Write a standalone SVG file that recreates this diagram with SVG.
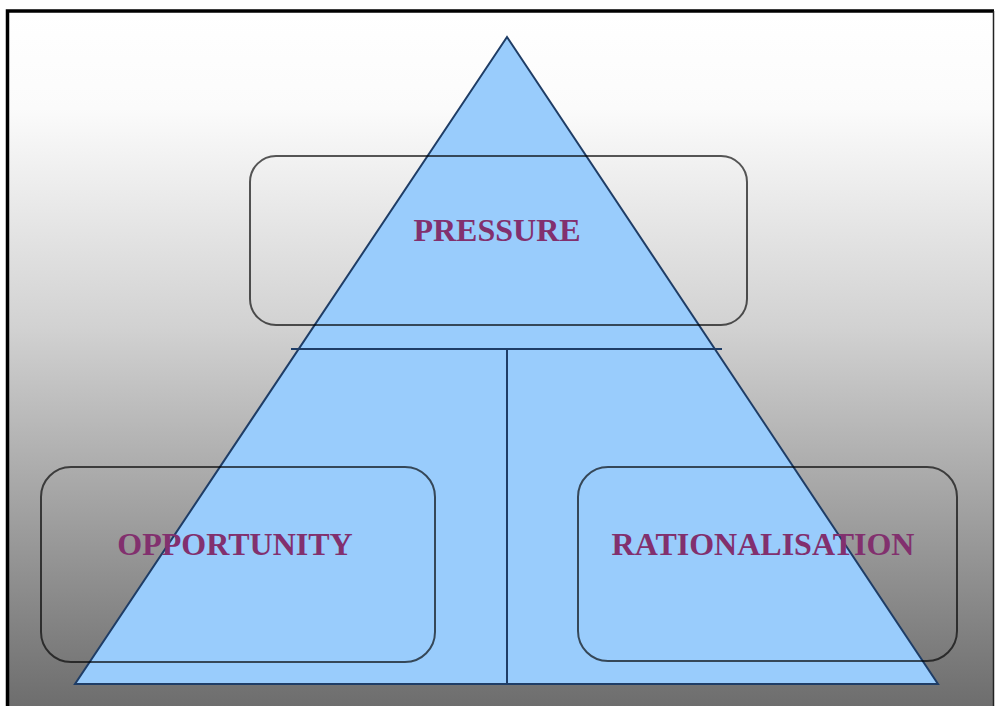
<svg xmlns="http://www.w3.org/2000/svg" width="995" height="706" viewBox="0 0 995 706">
  <defs>
    <linearGradient id="bg" x1="0" y1="0" x2="0" y2="1">
      <stop offset="0" stop-color="#ffffff"/>
      <stop offset="0.14" stop-color="#fbfbfb"/>
      <stop offset="0.45" stop-color="#d2d2d2"/>
      <stop offset="1" stop-color="#6c6c6c"/>
    </linearGradient>
    <style>
      .box { fill: none; stroke: #000; stroke-opacity: 0.65; stroke-width: 2; }
      .lbl { font-family: "Liberation Serif", "Times New Roman", serif; font-weight: bold; font-size: 32px; fill: #82306e; text-anchor: middle; }
      .conn { stroke: #1f3d66; stroke-width: 2; fill: none; }
    </style>
  </defs>
  <rect x="0" y="0" width="995" height="706" fill="#ffffff"/>
  <rect x="7" y="11" width="987" height="700" fill="url(#bg)"/>
  <path d="M7.5 706 V11 H994" fill="none" stroke="#000" stroke-width="3.5"/>
  <line x1="993.5" y1="11" x2="993.5" y2="706" stroke="#222" stroke-width="1.5"/>

  <g id="pyramid">
    <polygon points="507,37 75,684 938,684" fill="#99ccfc" stroke="#1f3d66" stroke-width="2" stroke-linejoin="miter"/>
  </g>

  <g id="connectors">
    <line class="conn" x1="291" y1="349" x2="722" y2="349"/>
    <line class="conn" x1="507" y1="349" x2="507" y2="684"/>
  </g>

  <g id="pressure">
    <rect class="box" x="250" y="156" width="497" height="169" rx="26" ry="26"/>
    <text class="lbl" x="497" y="241">PRESSURE</text>
  </g>

  <g id="opportunity">
    <rect class="box" x="41" y="467" width="394" height="195" rx="30" ry="30"/>
    <text class="lbl" x="235" y="555">OPPORTUNITY</text>
  </g>

  <g id="rationalisation">
    <rect class="box" x="578" y="467" width="379" height="194" rx="30" ry="30"/>
    <text class="lbl" x="763" y="555">RATIONALISATION</text>
  </g>
</svg>
